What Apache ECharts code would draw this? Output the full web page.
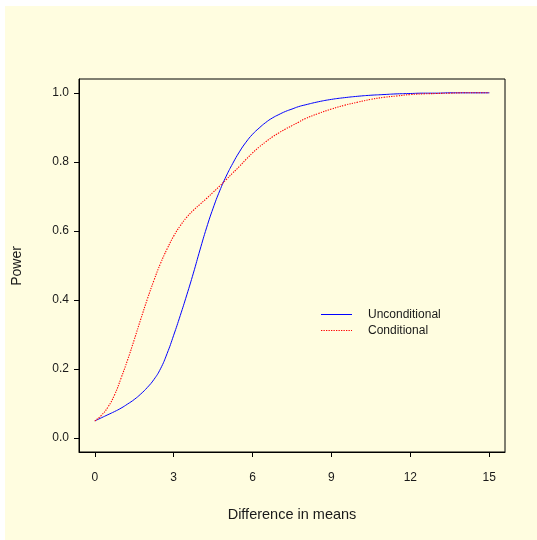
<!DOCTYPE html>
<html>
<head>
<meta charset="utf-8">
<script src="https://cdn.jsdelivr.net/npm/echarts@6/dist/echarts.min.js"></script>
<style>
  html, body { margin: 0; padding: 0; background: #ffffff; }
  #bg { position: absolute; left: 5px; top: 6px; background: #FFFDE0; width: 532px; height: 534px; }
  #chart { position: absolute; left: 0; top: 0; width: 537px; height: 540px; }
</style>
</head>
<body>
<div id="bg"></div>
<div id="chart"></div>
<script>
// Difference in means (x values, shared by both curves)
const xDiff = [0, 0.25, 0.5, 0.75, 1, 1.25, 1.5, 1.75, 2, 2.25, 2.5, 2.75, 3, 3.25, 3.5, 3.75, 4, 4.25, 4.5, 4.75, 5, 5.25, 5.5, 5.75, 6, 6.25, 6.5, 6.75, 7, 7.25, 7.5, 7.75, 8, 8.5, 9, 9.5, 10, 10.5, 11, 11.5, 12, 12.5, 13, 13.5, 14, 14.5, 15];
// Power, unconditional test
const yUncond = [0.050, 0.059, 0.068, 0.077, 0.087, 0.099, 0.112, 0.128, 0.147, 0.170, 0.201, 0.245, 0.298, 0.355, 0.415, 0.478, 0.545, 0.609, 0.666, 0.716, 0.759, 0.796, 0.829, 0.857, 0.880, 0.898, 0.914, 0.927, 0.937, 0.946, 0.953, 0.960, 0.965, 0.974, 0.981, 0.986, 0.990, 0.993, 0.995, 0.997, 0.998, 0.999, 0.999, 1.000, 1.000, 1.000, 1.000];
// Power, conditional test
const yCond = [0.050, 0.066, 0.090, 0.125, 0.174, 0.227, 0.285, 0.345, 0.403, 0.457, 0.506, 0.548, 0.585, 0.615, 0.640, 0.660, 0.677, 0.694, 0.712, 0.730, 0.749, 0.768, 0.787, 0.807, 0.826, 0.843, 0.858, 0.872, 0.884, 0.895, 0.905, 0.915, 0.925, 0.940, 0.953, 0.964, 0.973, 0.981, 0.987, 0.991, 0.995, 0.997, 0.998, 0.999, 1.000, 1.000, 1.000];

const xTicks = [0, 3, 6, 9, 12, 15];
const yTicks = [0.0, 0.2, 0.4, 0.6, 0.8, 1.0];
const seriesNames = ['Unconditional', 'Conditional'];
const xTitle = 'Difference in means';
const yTitle = 'Power';

const chart = echarts.init(document.getElementById('chart'), null, { renderer: 'canvas' });
const font = 'Liberation Sans, Arial, sans-serif';
const txt = '#1a1a1a';
const blue = '#0000FF';
const red = '#FF0000';
const dots = [1.3, 1.2];

const option = {
  backgroundColor: 'transparent',
  animation: false,
  grid: { left: 79, top: 79, right: 32, bottom: 88, show: true, borderColor: '#000', borderWidth: 1, backgroundColor: 'transparent' },
  xAxis: {
    type: 'value', min: -0.6, max: 15.6,
    splitLine: { show: false },
    axisLine: { show: true, onZero: false, lineStyle: { color: '#000', width: 1 } },
    axisTick: { show: true, inside: false, length: 5, lineStyle: { color: '#000' }, customValues: xTicks },
    axisLabel: { customValues: xTicks, margin: 20, color: txt, fontSize: 12, fontFamily: font, formatter: v => String(v) }
  },
  yAxis: {
    type: 'value', min: -0.04, max: 1.04,
    splitLine: { show: false },
    axisLine: { show: true, onZero: false, lineStyle: { color: '#000', width: 1 } },
    axisTick: { show: true, inside: false, length: 5, lineStyle: { color: '#000' }, customValues: yTicks },
    axisLabel: { customValues: yTicks, margin: 10, color: txt, fontSize: 12, fontFamily: font, formatter: v => v.toFixed(1) }
  },
  graphic: [
    { type: 'text', x: 292, y: 515, style: { text: xTitle, font: '14.5px ' + font, fill: txt, textAlign: 'center', textVerticalAlign: 'middle' } },
    { type: 'text', x: 17.5, y: 266, rotation: Math.PI / 2, style: { text: yTitle, font: '14px ' + font, fill: txt, textAlign: 'center', textVerticalAlign: 'middle' } },
    // legend
    { type: 'line', shape: { x1: 321, y1: 314.5, x2: 352, y2: 314.5 }, style: { stroke: blue, lineWidth: 1 } },
    { type: 'text', x: 368, y: 315, style: { text: seriesNames[0], font: '12px ' + font, fill: txt, textAlign: 'left', textVerticalAlign: 'middle' } },
    { type: 'line', shape: { x1: 321, y1: 330.5, x2: 352, y2: 330.5 }, style: { stroke: red, lineWidth: 1, lineDash: dots } },
    { type: 'text', x: 368, y: 331, style: { text: seriesNames[1], font: '12px ' + font, fill: txt, textAlign: 'left', textVerticalAlign: 'middle' } }
  ],
  series: [
    {
      name: seriesNames[0], type: 'line', showSymbol: false, symbol: 'none', smooth: true,
      lineStyle: { color: blue, width: 1 }, itemStyle: { color: blue },
      data: xDiff.map((x, i) => [x, yUncond[i]])
    },
    {
      name: seriesNames[1], type: 'line', showSymbol: false, symbol: 'none', smooth: true,
      lineStyle: { color: red, width: 1.1, type: dots }, itemStyle: { color: red },
      data: xDiff.map((x, i) => [x, yCond[i]])
    }
  ]
};
chart.setOption(option);
</script>
</body>
</html>
